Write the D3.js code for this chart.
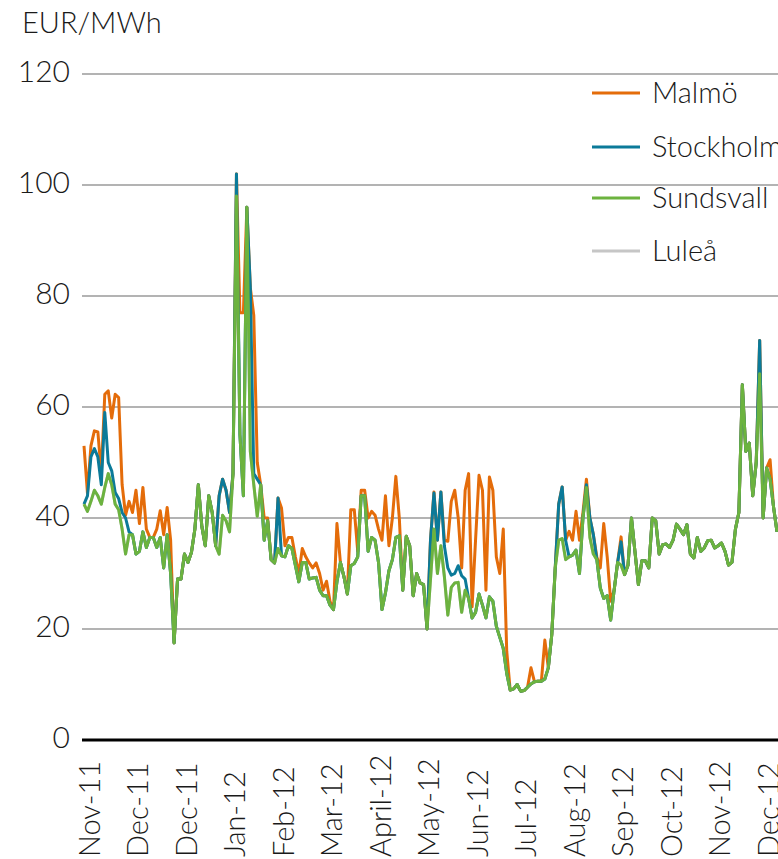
<!DOCTYPE html>
<html>
<head>
<meta charset="utf-8">
<script src="https://cdnjs.cloudflare.com/ajax/libs/d3/7.8.5/d3.min.js"></script>
<title>Elpriser</title>
<style>
    body { margin: 0; background: #fff; }
    svg text { font-family: Lato, "Open Sans", sans-serif; font-weight: 300; fill: #1a1a1a; }
</style>
</head>
<body>
<div id="graph"></div>
<script>

    // day offsets from 1 Nov 2011, every second day
    var days = d3.range(0, 401, 2);

    var sundsvall = [
        42.5, 41.2, 43, 45, 44, 42.5, 45.5, 48, 46, 42.5,
        41.5, 38, 33.5, 37, 37, 33.5, 34, 37.5, 34.7, 36.5,
        36.5, 34.7, 36.5, 31, 37, 30, 17.5, 29, 29, 33.5,
        32, 33.8, 38, 46, 38.5, 35, 44, 41, 35, 33.5,
        40.5, 39.5, 37.5, 48, 98, 55, 44, 96, 52, 46,
        40.3, 46, 36, 39.5, 32.5, 31.9, 34.5, 33.2, 33, 35,
        34.5, 31.5, 28.5, 32, 32, 29, 29.2, 29.3, 27, 26,
        26, 24.3, 23.5, 28.5, 32, 29.5, 26.3, 31.4, 31.8, 33,
        44, 44, 34, 36.5, 36, 32, 23.5, 26.5, 30.5, 32.5,
        36.5, 36.8, 27, 36.7, 35, 26, 30, 28.3, 28, 20,
        29, 38, 30, 35, 29.5, 22.5, 27.5, 28.3, 28.4, 23,
        27, 25.5, 22, 23, 26.3, 24.3, 22, 25.8, 25, 20.5,
        18.5, 16.5, 12, 9, 9.2, 10, 8.8, 8.9, 9.5, 10.1,
        10.5, 10.6, 10.6, 11, 13, 19, 31, 36, 36.3, 32.5,
        33, 33.3, 34.2, 30, 40, 45.5, 36.5, 33.5, 32.5, 27.4,
        25.5, 26, 21.6, 27, 32, 31.5, 29.8, 31.5, 40, 34,
        28, 32.3, 32.3, 31, 40, 39.5, 33.5, 35.2, 35.3, 34.7,
        36, 38.9, 38, 37, 38.8, 33.5, 32.8, 36.5, 34, 34.6,
        35.9, 36, 34.6, 35, 35.5, 34, 31.5, 32, 38, 41,
        64, 52, 53.5, 44, 50, 66, 40, 49, 47, 42,
        37.5
    ];

    var stockholm = [
        42.5, 44, 51, 52.5, 51, 46, 59, 50, 48.5, 44.6,
        43.5, 41, 40, 37.5, 37, 33.5, 34, 37.5, 34.7, 36.5,
        36.5, 34.7, 36.5, 31, 37, 30, 17.5, 29, 29, 33.5,
        32, 33.8, 38, 46, 38.5, 35, 44, 41, 35, 44,
        47, 45, 41, 48, 102, 55, 44, 96, 81.5, 48,
        47, 46, 36, 39.5, 32.5, 31.9, 43.6, 33.2, 33, 35,
        34.5, 31.5, 28.5, 32, 32, 29, 29.2, 29.3, 27, 26,
        26, 24.3, 23.5, 28.5, 32, 29.5, 26.3, 31.4, 31.8, 33,
        44, 44, 34, 36.5, 36, 32, 23.5, 26.5, 30.5, 32.5,
        36.5, 36.8, 27, 36.7, 35, 26, 30, 28.3, 28, 20,
        36, 44.5, 36, 44.7, 35, 31, 29.7, 30, 31.4, 29.6,
        29, 25.5, 22, 23, 26.3, 24.3, 22, 25.8, 25, 20.5,
        18.5, 16.5, 12, 9, 9.2, 10, 8.8, 8.9, 9.5, 10.1,
        10.5, 10.6, 10.6, 11, 13, 19, 31, 42.5, 45.6, 36,
        33, 33.3, 34.2, 30, 40, 46, 40, 37, 32.5, 27.4,
        25.5, 26, 21.6, 27, 32, 35.7, 29.8, 31.5, 40, 34,
        28, 32.3, 32.3, 31, 40, 39.5, 33.5, 35.2, 35.3, 34.7,
        36, 38.9, 38, 37, 38.8, 33.5, 32.8, 36.5, 34, 34.6,
        35.9, 36, 34.6, 35, 35.5, 34, 31.5, 32, 38, 41,
        64, 52, 53.5, 44, 50, 72, 40, 49, 47, 42,
        37.5
    ];

    var malmo = [
        53, 44.5, 53, 55.7, 55.5, 48, 62.3, 62.9, 58, 62.3,
        61.7, 46, 40.5, 43, 41, 45, 39, 45.5, 38, 36.5,
        36.5, 38, 41.3, 37, 41.9, 36, 17.5, 29, 29, 33.5,
        32, 33.8, 38, 46, 38.5, 35, 44, 41, 35, 44,
        47, 45, 41, 48, 102, 77, 77, 96, 81.5, 76.5,
        50, 46, 40, 40, 32.5, 31.9, 43.6, 41.8, 35, 36.5,
        36.5, 33, 30, 34.5, 33, 31.9, 31, 31.9, 30, 27,
        28.6, 25, 23.5, 39, 32, 29.5, 26.3, 41.5, 41.5, 34,
        45, 45, 40, 41.2, 40.5, 38, 36, 44, 35, 40,
        47.5, 40, 27, 36.7, 35, 26, 30, 28.3, 28, 20,
        36, 44.7, 36, 44.7, 36, 35.8, 43, 45, 40, 31,
        45, 48, 24, 36, 47.7, 45, 27, 47.4, 45, 33,
        30, 38, 16, 9, 9.2, 10, 8.8, 8.9, 9.5, 13,
        10.5, 10.6, 10.6, 18, 13, 19, 31, 42.5, 45.6, 36,
        37.6, 36, 41.2, 36, 41, 47, 40, 37, 33, 31,
        39, 33, 25, 27, 32, 36.6, 29.8, 31.5, 40, 34,
        28, 32.3, 32.3, 31, 40, 39.5, 33.5, 35.2, 35.3, 34.7,
        36, 38.9, 38, 37, 38.8, 33.5, 32.8, 36.5, 34, 34.6,
        35.9, 36, 34.6, 35, 35.5, 34, 31.5, 32, 38, 41,
        64, 52, 53.5, 44, 50, 72, 40, 49, 50.5, 42,
        37.5
    ];

    // Luleå follows Sundsvall in the picture (hidden under the green line)
    var lulea = sundsvall.slice();

    var tickDays = [3, 31, 59, 87, 115, 143, 171, 199, 227, 255, 283, 311, 339, 367, 395];
    var tickLabels = ["Nov-11", "Dec-11", "Dec-11", "Jan-12", "Feb-12", "Mar-12", "April-12", "May-12",
        "Jun-12", "Jul-12", "Aug-12", "Sep-12", "Oct-12", "Nov-12", "Dec-12"];
    var yTicks = [0, 20, 40, 60, 80, 100, 120];

    var seriesNames = ["Malmö", "Stockholm", "Sundsvall", "Luleå"];
    var seriesColors = ["#e46c0a", "#0b7a99", "#6cb33f", "#c6c6c6"];

    var width = 778, height = 859;

    var svg = d3.select("#graph")
        .append("svg")
        .attr("width", width)
        .attr("height", height);

    var x = d3.scaleLinear().domain([0, 400]).range([84, 777]);
    var y = d3.scaleLinear().domain([0, 120]).range([740, 74]);

    // gridlines
    svg.selectAll(".grid")
        .data(yTicks.filter(function (d) { return d > 0 }))
        .enter()
        .append("line")
        .attr("x1", 82)
        .attr("x2", width)
        .attr("y1", function (d) { return y(d) })
        .attr("y2", function (d) { return y(d) })
        .attr("stroke", "#b3b3b3")
        .attr("stroke-width", 2);

    // y labels
    svg.selectAll(".ylab")
        .data(yTicks)
        .enter()
        .append("text")
        .attr("x", 70)
        .attr("y", function (d) { return y(d) - 3 })
        .attr("dy", "0.35em")
        .attr("text-anchor", "end")
        .attr("font-size", "30px")
        .text(function (d) { return d });

    // unit
    svg.append("text")
        .attr("x", 22)
        .attr("y", 33)
        .attr("font-size", "29px")
        .text("EUR/MWh");

    // lines, drawn Luleå first so that Sundsvall ends on top
    var drawOrder = [
        { values: lulea, color: seriesColors[3] },
        { values: malmo, color: seriesColors[0] },
        { values: stockholm, color: seriesColors[1] },
        { values: sundsvall, color: seriesColors[2] }
    ];

    var line = d3.line()
        .x(function (d, i) { return x(days[i]) })
        .y(function (d) { return y(d) });

    svg.selectAll(".series")
        .data(drawOrder)
        .enter()
        .append("path")
        .attr("d", function (d) { return line(d.values) })
        .attr("fill", "none")
        .attr("stroke", function (d) { return d.color })
        .attr("stroke-width", 3)
        .attr("stroke-linejoin", "round");

    // zero axis
    svg.append("line")
        .attr("x1", 82)
        .attr("x2", width)
        .attr("y1", y(0))
        .attr("y2", y(0))
        .attr("stroke", "#000")
        .attr("stroke-width", 3);

    // x labels, rotated
    svg.selectAll(".xlab")
        .data(tickDays)
        .enter()
        .append("text")
        .attr("transform", function (d) { return "translate(" + x(d) + ",857) rotate(-90)" })
        .attr("dy", "0.36em")
        .attr("text-anchor", "start")
        .attr("font-size", "29px")
        .text(function (d, i) { return tickLabels[i] });

    // legend
    var legend = svg.selectAll(".legend")
        .data(seriesNames)
        .enter()
        .append("g")
        .attr("transform", function (d, i) { return "translate(592," + [93, 147, 198, 251][i] + ")" });

    legend.append("line")
        .attr("x1", 0)
        .attr("x2", 48)
        .attr("stroke", function (d, i) { return seriesColors[i] })
        .attr("stroke-width", 3);

    legend.append("text")
        .attr("x", 60)
        .attr("dy", "0.35em")
        .attr("font-size", "29px")
        .text(function (d) { return d });

</script>
</body>
</html>
